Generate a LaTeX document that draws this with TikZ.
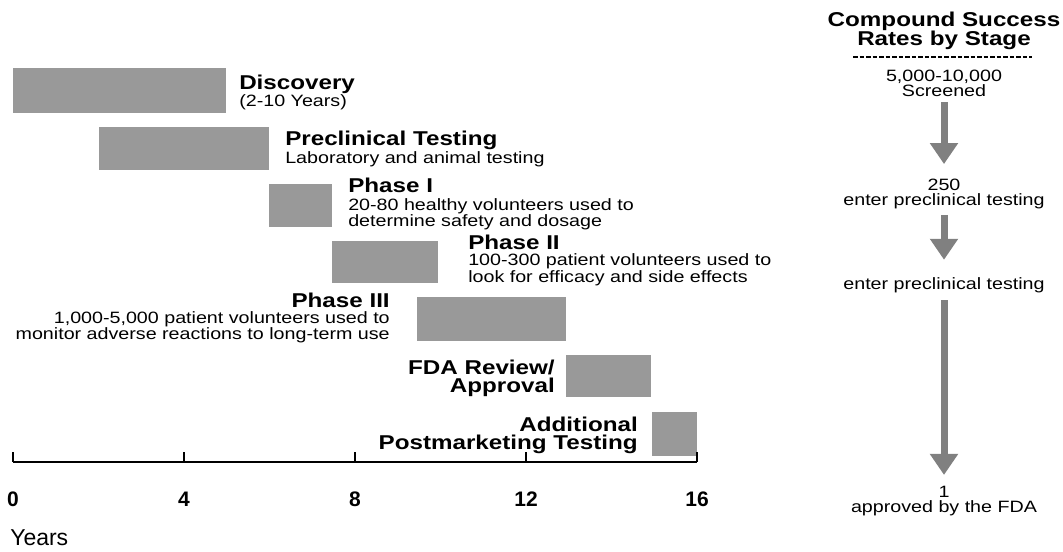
\documentclass[tikz,border=0pt]{standalone}
\usepackage{fontspec}
\setmainfont{Liberation Sans}
\newfontfamily\rgfont[FakeStretch=1.2]{Liberation Sans}
\newfontfamily\bdfont[FakeStretch=1.21]{Liberation Sans}
\usetikzlibrary{arrows.meta}
\definecolor{barfill}{HTML}{999999}
\definecolor{arrowfill}{HTML}{808080}

\begin{document}
\begin{tikzpicture}[x=0.75pt,y=-0.75pt,
  bar/.style={fill=barfill},
  head/.style={font=\bdfont\bfseries\fontsize{15}{13.4}\selectfont, inner sep=0pt},
  body/.style={font=\rgfont\fontsize{12.3}{11.3}\selectfont, inner sep=0pt},
  ticklabel/.style={font=\bfseries\fontsize{15.75}{18}\selectfont, inner sep=0pt, anchor=base},
  bigarrow/.style={draw=arrowfill, line width=5.25pt,
    -{Triangle[width=20.25pt,length=15.75pt]}},
  axisline/.style={line width=1.5pt, black}
]
% page
\fill[white] (0,0) rectangle (1063,552);
\useasboundingbox (0,0) rectangle (1063,552);

% ---- timeline bars ----
\fill[bar] (13,68)  rectangle (226,113);   % discovery
\fill[bar] (99,127) rectangle (269,170);   % preclinical
\fill[bar] (269,184) rectangle (332,227);  % phase I
\fill[bar] (332,241) rectangle (438,283);  % phase II
\fill[bar] (417,297) rectangle (566,341);  % phase III
\fill[bar] (566,355) rectangle (651,397);  % FDA review
\fill[bar] (652,412) rectangle (697,456);  % postmarketing

% ---- stage labels ----
\node[head, anchor=base west] (disc) at (239,90) {Discovery};
\node[body, anchor=north west] (discd) at (239,94) {(2-10 Years)};

\node[head, anchor=base west] (precl) at (285,146) {Preclinical Testing};
\node[body, anchor=north west] (precld) at (285,151) {Laboratory and animal testing};

\node[head, anchor=base west] (ph1) at (348,193) {Phase I};
\node[body, anchor=north west, align=left] (ph1d) at (348,198)
  {20-80 healthy volunteers used to\\determine safety and dosage};

\node[head, anchor=base west] (ph2) at (468,249) {Phase II};
\node[body, anchor=north west, align=left] (ph2d) at (468,253.5)
  {100-300 patient volunteers used to\\look for efficacy and side effects};

\node[head, anchor=base east] (ph3) at (390,307) {Phase III};
\node[body, anchor=north east, align=right] (ph3d) at (390,311)
  {1,000-5,000 patient volunteers used to\\monitor adverse reactions to long-term use};

\node[head, anchor=north east, align=right] (fda) at (555,359.5)
  {FDA Review/\\Approval};
\node[head, anchor=north east, align=right] (addl) at (638,416.5)
  {Additional\\Postmarketing Testing};

% ---- time axis ----
\draw[axisline] (13,462) -- (697,462);
\foreach \t in {0,4,8,12,16}{
  \draw[axisline] (13+42.75*\t,452) -- (13+42.75*\t,462);
  \node[ticklabel] (tk\t) at (13+42.75*\t,506.5) {\t};
}
\node[font=\fontsize{17.25}{20}\selectfont, inner sep=0pt, anchor=base west]
  (years) at (10,545) {Years};

% ---- success rates column ----
\node[head, anchor=north, align=center, font=\bdfont\bfseries\fontsize{15}{14.25}\selectfont]
  (title) at (944,11.7) {Compound Success\\Rates by Stage};
\draw[black, line width=0.8pt, dash pattern=on 3.4pt off 1.5pt] (853,57) -- (1032,57);

\node[body, anchor=north, align=center] (scr) at (944,70) {5,000-10,000\\Screened};
\node[body, anchor=north, align=center] (n250) at (944,179) {250\\enter preclinical testing};
\node[body, anchor=base] (pre) at (944,289) {enter preclinical testing};
\node[body, anchor=north, align=center] (appr) at (944,486) {1\\approved by the FDA};

\draw[bigarrow, shorten <=3.75pt, shorten >=11.2pt] (scr) -- (n250);
\draw[bigarrow, shorten <=4.1pt, shorten >=12.8pt] (n250) -- (pre);
\draw[bigarrow, shorten <=5.6pt, shorten >=8.3pt] (pre) -- (appr);
\end{tikzpicture}
\end{document}
